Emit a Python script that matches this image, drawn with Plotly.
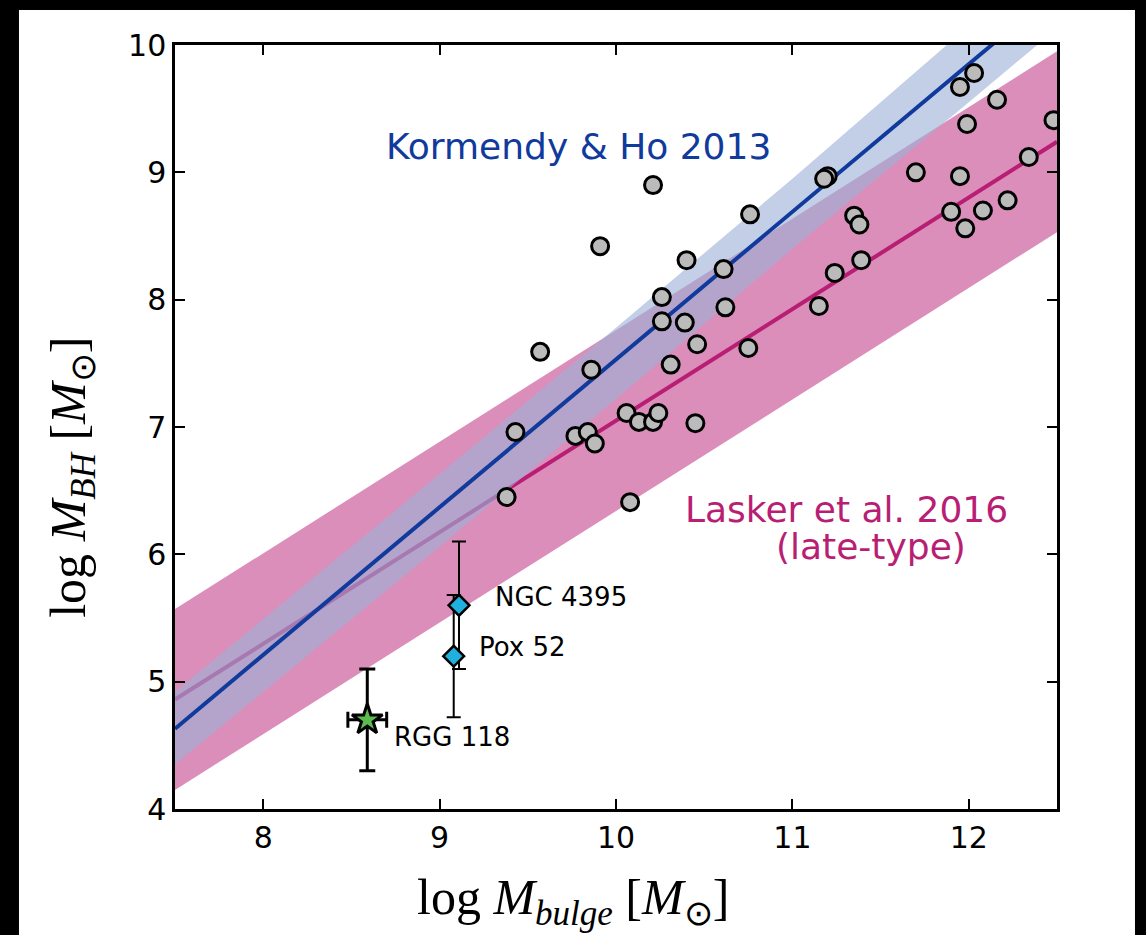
import plotly.graph_objects as go

# ---- galaxy sample: log bulge mass vs log black-hole mass ----
gal_logmbulge = [12.48, 12.03, 11.95, 12.16, 11.99, 11.70, 11.95, 12.34, 11.90, 12.08,
                 12.22, 11.98, 11.20, 11.18, 11.35, 11.38, 11.39, 11.24, 11.15, 10.76,
                 10.61, 10.62, 10.75, 10.46, 10.40, 10.39, 10.26, 10.26, 10.31, 10.21,
                 9.91, 9.57, 9.86, 9.43, 9.38, 9.77, 9.84, 9.88, 10.06, 10.13,
                 10.21, 10.24, 10.45, 10.08]
gal_logmbh = [9.41, 9.78, 9.67, 9.57, 9.38, 9.00, 8.97, 9.12, 8.69, 8.70,
              8.78, 8.56, 8.97, 8.95, 8.66, 8.59, 8.31, 8.21, 7.95, 8.67,
              8.24, 7.94, 7.62, 7.65, 8.31, 7.82, 8.02, 7.83, 7.49, 8.90,
              8.42, 7.59, 7.45, 6.96, 6.45, 6.93, 6.96, 6.87, 7.11, 7.04,
              7.04, 7.11, 7.03, 6.41]

# ---- dwarf galaxies with error bars ----
dwarf_names = ["NGC 4395", "Pox 52"]
dwarf_logmbulge = [9.11, 9.08]
dwarf_logmbh = [5.60, 5.20]
dwarf_err = [0.50, 0.48]

rgg_name = "RGG 118"
rgg_logmbulge = [8.59]
rgg_logmbh = [4.70]
rgg_xerr = [0.11]
rgg_yerr = [0.40]

# ---- scaling relations ----
fit_x = [7.5, 12.5]
kh13_line = [4.63, 10.43]
lasker_line = [4.86, 9.24]
lasker_upper = [5.57, 9.95]
lasker_lower = [4.15, 8.53]

kh13_band_x = [7.5, 9.0, 10.0, 11.0, 12.0, 12.5]
kh13_upper = [4.92, 6.63, 7.78, 8.95, 10.15, 10.74]
kh13_lower = [4.35, 6.06, 7.22, 8.40, 9.55, 10.13]

BLUE = "#103a9c"
MAGENTA = "#b81e73"

fig = go.Figure()

# Lasker et al. 2016 band and fit
fig.add_trace(go.Scatter(
    x=fit_x + fit_x[::-1], y=lasker_upper + lasker_lower[::-1],
    fill="toself", fillcolor="rgba(184,30,115,0.5)", line=dict(width=0),
    mode="lines", hoverinfo="skip", showlegend=False))
fig.add_trace(go.Scatter(
    x=fit_x, y=lasker_line, mode="lines",
    line=dict(color=MAGENTA, width=4), showlegend=False))

# Kormendy & Ho 2013 band and fit
fig.add_trace(go.Scatter(
    x=kh13_band_x + kh13_band_x[::-1], y=kh13_upper + kh13_lower[::-1],
    fill="toself", fillcolor="rgba(157,178,215,0.62)", line=dict(width=0),
    mode="lines", hoverinfo="skip", showlegend=False))
fig.add_trace(go.Scatter(
    x=fit_x, y=kh13_line, mode="lines",
    line=dict(color=BLUE, width=4), showlegend=False))

# galaxy sample
fig.add_trace(go.Scatter(
    x=gal_logmbulge, y=gal_logmbh, mode="markers",
    marker=dict(size=17, color="#bbbbbb", line=dict(color="black", width=3)),
    showlegend=False))

# dwarf galaxies
fig.add_trace(go.Scatter(
    x=dwarf_logmbulge, y=dwarf_logmbh, mode="markers",
    marker=dict(symbol="diamond", size=16, color="#1fb0e0",
                line=dict(color="black", width=2.5)),
    error_y=dict(type="data", array=dwarf_err, color="black", thickness=2, width=7),
    showlegend=False))

fig.add_trace(go.Scatter(
    x=rgg_logmbulge, y=rgg_logmbh, mode="markers",
    marker=dict(symbol="star", size=23, color="#5cbb4f",
                line=dict(color="black", width=3)),
    error_x=dict(type="data", array=rgg_xerr, color="black", thickness=3, width=8),
    error_y=dict(type="data", array=rgg_yerr, color="black", thickness=3, width=8),
    showlegend=False))

label_font = dict(family="DejaVu Sans", size=26, color="black")
fig.add_annotation(x=9.30, y=5.665, text=dwarf_names[0], showarrow=False,
                   xanchor="left", yanchor="middle", font=label_font)
fig.add_annotation(x=9.21, y=5.27, text=dwarf_names[1], showarrow=False,
                   xanchor="left", yanchor="middle", font=label_font)
fig.add_annotation(x=8.73, y=4.565, text=rgg_name, showarrow=False,
                   xanchor="left", yanchor="middle", font=label_font)

fig.add_annotation(x=9.79, y=9.2, text="Kormendy & Ho 2013", showarrow=False,
                   xanchor="center", yanchor="middle",
                   font=dict(family="DejaVu Sans", size=36, color=BLUE))
fig.add_annotation(x=11.307, y=6.35, text="Lasker et al. 2016", showarrow=False,
                   xanchor="center", yanchor="middle",
                   font=dict(family="DejaVu Sans", size=36, color=MAGENTA))
fig.add_annotation(x=11.443, y=6.06, text="(late-type)", showarrow=False,
                   xanchor="center", yanchor="middle",
                   font=dict(family="DejaVu Sans", size=36, color=MAGENTA))

# axis titles
title_font = dict(family="Liberation Serif", size=50, color="black")
fig.add_annotation(xref="paper", yref="paper", x=0.451, y=-0.121,
                   text="log <i>M</i><sub><i>bulge</i></sub> [<i>M</i><sub>⊙</sub>]",
                   showarrow=False, xanchor="center", yanchor="middle", font=title_font)
fig.add_annotation(xref="paper", yref="paper", x=-0.117, y=0.4346, textangle=-90,
                   text="log <i>M</i><sub><i>BH</i></sub> [<i>M</i><sub>⊙</sub>]",
                   showarrow=False, xanchor="center", yanchor="middle", font=title_font)

# dark frame around the figure
for x0, x1, y0, y1 in [(-0.2, -0.1769, -0.2, 1.1), (-0.2, 1.2, 1.0458, 1.1),
                       (1.0884, 1.2, -0.2, 1.1)]:
    fig.add_shape(type="rect", xref="paper", yref="paper", x0=x0, x1=x1, y0=y0, y1=y1,
                  fillcolor="black", line=dict(width=0), layer="above")

axis_common = dict(showgrid=False, zeroline=False, showline=True, linecolor="black",
                   linewidth=2.5, mirror="ticks", ticks="inside", ticklen=10,
                   tickwidth=1.5, tickcolor="black",
                   tickfont=dict(family="DejaVu Sans", size=30, color="black"))

fig.update_xaxes(range=[7.5, 12.5], tickvals=[8, 9, 10, 11, 12], **axis_common)
fig.update_yaxes(range=[4, 10], tickvals=[4, 5, 6, 7, 8, 9, 10], **axis_common)

fig.update_layout(
    width=1146, height=935,
    margin=dict(l=175, r=89, t=45, b=126),
    paper_bgcolor="white", plot_bgcolor="white",
    showlegend=False,
)

fig.write_html("out.html")
